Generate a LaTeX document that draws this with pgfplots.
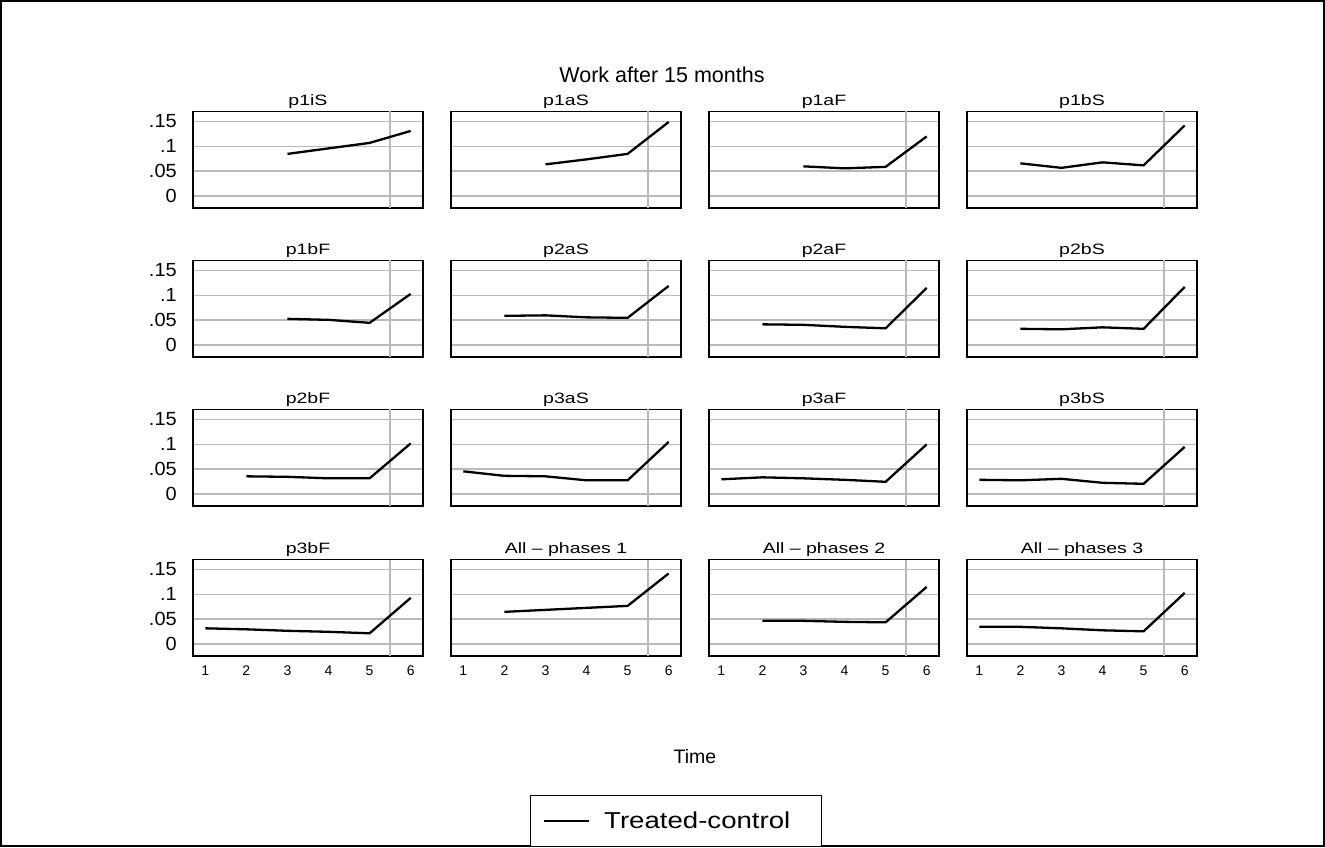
\documentclass[border=0pt]{standalone}
\usepackage{pgfplots}
\pgfplotsset{compat=1.18}
\usepackage{fontspec}
\setmainfont{Liberation Sans}

\pgfplotsset{
  panel/.style={
    scale only axis, width=230pt, height=96.5pt,
    anchor=south west,
    xmin=0.7, xmax=6.3, ymin=-0.0235, ymax=0.170,
    axis line style={line width=1.3pt},
    ytick={0,0.05,0.1,0.15}, yticklabels={},
    xtick={1,2,3,4,5,6}, xticklabels={},
    major tick length=0pt,
    ymajorgrids,
    grid style={color=black!27, line width=1.8pt},
    extra x ticks={5.5}, extra x tick labels={},
    extra x tick style={grid=major},
    title style={font=\fontsize{15}{15}\selectfont, xscale=1.3, inner sep=1pt, yshift=-4.5pt},
    /pgf/number format/assume math mode=true,
  },
  leftcol/.style={
    yticklabels={0,.05,.1,.15},
    yticklabel style={font=\fontsize{19}{19}\selectfont, xscale=1.05, xshift=-12pt},
  },
  bottomrow/.style={
    xticklabels={1,2,3,4,5,6},
    xticklabel style={font=\fontsize{14}{14}\selectfont, yshift=-6pt},
  },
  tc/.style={black, line width=2.3pt, no marks},
}

\begin{document}
\begin{tikzpicture}[x=1pt,y=1pt]
\path[use as bounding box] (0,0) rectangle (1325,847);
\draw[line width=2pt] (1,1) rectangle (1324,846);
\node[font=\fontsize{21.5}{21.5}\selectfont] at (662,772) {Work after 15 months};

% row 1
\begin{axis}[panel, leftcol, at={(193pt,639pt)}, title={p1iS}]
\addplot[tc] coordinates {(3,0.085)(4,0.096)(5,0.107)(6,0.131)};
\end{axis}
\begin{axis}[panel, at={(451pt,639pt)}, title={p1aS}]
\addplot[tc] coordinates {(3,0.064)(4,0.074)(5,0.085)(6,0.149)};
\end{axis}
\begin{axis}[panel, at={(709pt,639pt)}, title={p1aF}]
\addplot[tc] coordinates {(3,0.060)(4,0.056)(5,0.059)(6,0.120)};
\end{axis}
\begin{axis}[panel, at={(967pt,639pt)}, title={p1bS}]
\addplot[tc] coordinates {(2,0.066)(3,0.057)(4,0.068)(5,0.062)(6,0.142)};
\end{axis}

% row 2
\begin{axis}[panel, leftcol, at={(193pt,490pt)}, title={p1bF}]
\addplot[tc] coordinates {(3,0.053)(4,0.051)(5,0.045)(6,0.103)};
\end{axis}
\begin{axis}[panel, at={(451pt,490pt)}, title={p2aS}]
\addplot[tc] coordinates {(2,0.059)(3,0.060)(4,0.056)(5,0.055)(6,0.119)};
\end{axis}
\begin{axis}[panel, at={(709pt,490pt)}, title={p2aF}]
\addplot[tc] coordinates {(2,0.042)(3,0.041)(4,0.037)(5,0.034)(6,0.115)};
\end{axis}
\begin{axis}[panel, at={(967pt,490pt)}, title={p2bS}]
\addplot[tc] coordinates {(2,0.033)(3,0.032)(4,0.036)(5,0.033)(6,0.117)};
\end{axis}

% row 3
\begin{axis}[panel, leftcol, at={(193pt,341pt)}, title={p2bF}]
\addplot[tc] coordinates {(2,0.036)(3,0.035)(4,0.032)(5,0.032)(6,0.102)};
\end{axis}
\begin{axis}[panel, at={(451pt,341pt)}, title={p3aS}]
\addplot[tc] coordinates {(1,0.046)(2,0.037)(3,0.036)(4,0.028)(5,0.028)(6,0.105)};
\end{axis}
\begin{axis}[panel, at={(709pt,341pt)}, title={p3aF}]
\addplot[tc] coordinates {(1,0.030)(2,0.034)(3,0.032)(4,0.029)(5,0.025)(6,0.100)};
\end{axis}
\begin{axis}[panel, at={(967pt,341pt)}, title={p3bS}]
\addplot[tc] coordinates {(1,0.029)(2,0.028)(3,0.031)(4,0.023)(5,0.021)(6,0.095)};
\end{axis}

% row 4
\begin{axis}[panel, leftcol, bottomrow, at={(193pt,191pt)}, title={p3bF}]
\addplot[tc] coordinates {(1,0.032)(2,0.030)(3,0.027)(4,0.025)(5,0.022)(6,0.093)};
\end{axis}
\begin{axis}[panel, bottomrow, at={(451pt,191pt)}, title={All -- phases 1}]
\addplot[tc] coordinates {(2,0.065)(3,0.069)(4,0.073)(5,0.077)(6,0.142)};
\end{axis}
\begin{axis}[panel, bottomrow, at={(709pt,191pt)}, title={All -- phases 2}]
\addplot[tc] coordinates {(2,0.047)(3,0.047)(4,0.045)(5,0.044)(6,0.115)};
\end{axis}
\begin{axis}[panel, bottomrow, at={(967pt,191pt)}, title={All -- phases 3},
  legend style={at={(-1.2652,-1.7098)}, anchor=center, draw=black, line width=1pt,
    font=\fontsize{23}{23}\selectfont, inner xsep=11.5pt, inner ysep=14pt,
    /tikz/column sep=12pt, nodes={xscale=1.2}},
  legend image code/.code={\draw[line width=2.3pt] (0pt,0pt) -- (45pt,0pt);}]
\addplot[tc] coordinates {(1,0.035)(2,0.035)(3,0.032)(4,0.028)(5,0.026)(6,0.103)};
\addlegendentry{Treated-control\rule{14pt}{0pt}}
\end{axis}

\node[font=\fontsize{19.5}{19.5}\selectfont] at (695,90) {Time};
\end{tikzpicture}
\end{document}
